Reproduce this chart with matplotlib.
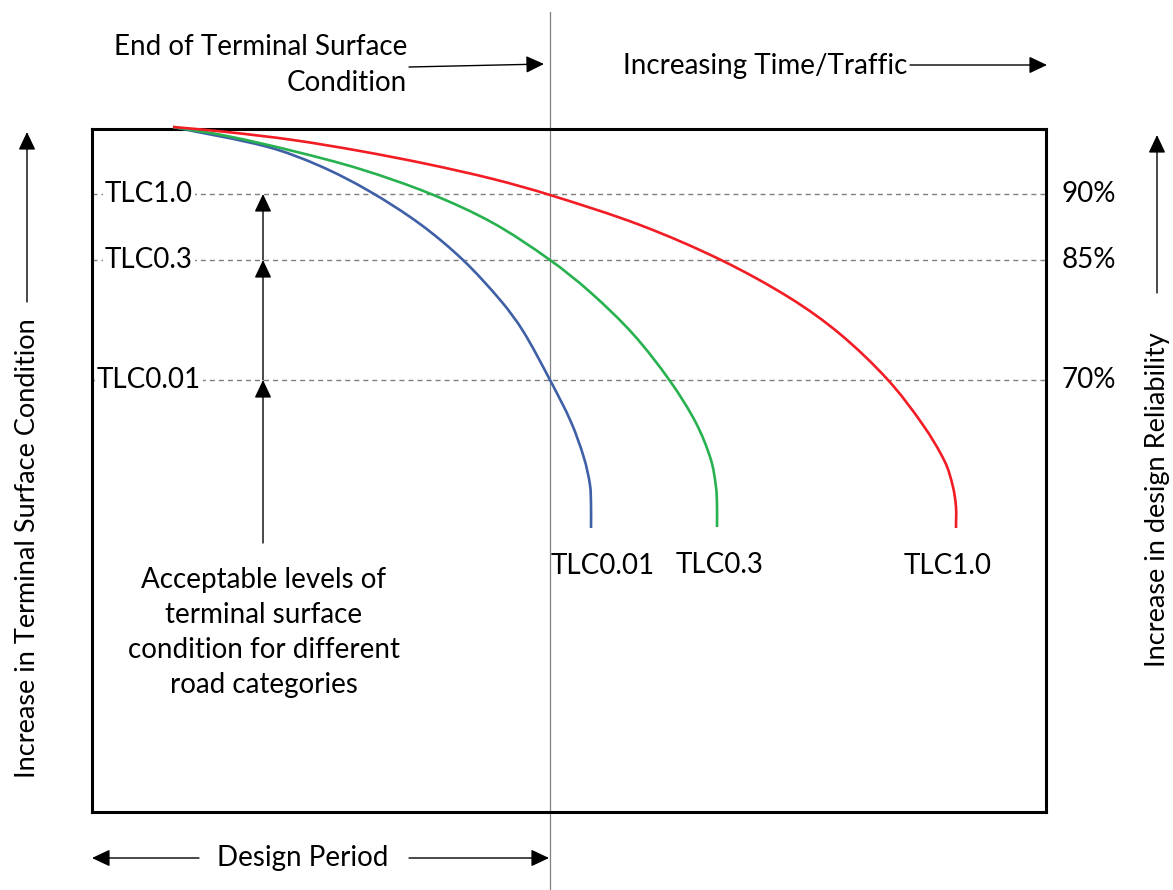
import math
import matplotlib
matplotlib.use("Agg")
import matplotlib.pyplot as plt
from matplotlib.path import Path
from matplotlib.patches import PathPatch

# ---- data (time/traffic units vs terminal surface condition units) ----
tlc001_t = [8.1, 17.6, 22.8, 27.7, 32.8, 37.1, 40.9, 43.1, 45.8, 47.9, 49.2, 49.8, 49.9, 49.9]
tlc001_c = [68.5, 66.5, 64.6, 62.1, 58.8, 55.2, 51.1, 48.1, 43.2, 39.0, 35.4, 32.7, 30.7, 28.4]

tlc03_t = [8.1, 13.5, 20.1, 26.8, 33.9, 40.1, 45.8, 49.8, 54.1, 57.8, 60.4, 61.9, 62.4, 62.5, 62.5]
tlc03_c = [68.5, 67.6, 66.1, 64.3, 61.8, 58.9, 55.2, 52.0, 47.8, 43.1, 38.9, 35.2, 32.5, 30.7, 28.5]

tlc10_t = [8.1, 13.5, 20.1, 26.8, 33.5, 40.1, 45.8, 54.8, 62.9, 69.8, 74.8, 79.6, 83.1, 85.3,
           86.1, 86.4, 86.4]
tlc10_c = [68.5, 68.0, 67.2, 66.1, 64.8, 63.3, 61.7, 58.7, 55.2, 51.4, 47.8, 43.2, 38.7, 35.0,
           32.5, 30.5, 28.4]

curve_labels = ["TLC0.01", "TLC0.3", "TLC1.0"]
level_values = [61.8, 55.2, 43.2]
level_labels = ["TLC1.0", "TLC0.3", "TLC0.01"]
reliability_labels = ["90%", "85%", "70%"]
design_period_end = 45.8
x_max, y_max = 95.4, 68.3

FONT = "Lato"
FS = 20
plt.rcParams["font.family"] = [FONT, "DejaVu Sans"]

W, H = 1173, 890
fig = plt.figure(figsize=(W / 100, H / 100), dpi=100)
fig.patch.set_facecolor("white")

# main box axes
ax = fig.add_axes([92 / W, (H - 812) / H, 954 / W, 683 / H])
ax.set_xlim(0, x_max)
ax.set_ylim(0, y_max)
ax.set_xticks([])
ax.set_yticks([])
for s in ax.spines.values():
    s.set_linewidth(2.2)
    s.set_color("black")

# dashed reference levels
for lv in level_values:
    ax.axhline(lv, color="#7f7f7f", lw=1.0, linestyle=(0, (3.6, 2.9)), zorder=1)

# vertical end-of-design-period line
ax.plot([design_period_end, design_period_end], [-7.9, 80.0], color="#808080",
        lw=0.9, clip_on=False, zorder=1)


def smooth_path(xs, ys):
    """Chord-length Hermite/Bezier path passing through the given points."""
    pts = list(zip(xs, ys))
    n = len(pts)
    d = [math.hypot(pts[i + 1][0] - pts[i][0], pts[i + 1][1] - pts[i][1])
         for i in range(n - 1)]
    tang = []
    for i in range(n):
        if i == 0:
            tang.append(((pts[1][0] - pts[0][0]) / d[0], (pts[1][1] - pts[0][1]) / d[0]))
        elif i == n - 1:
            tang.append(((pts[i][0] - pts[i - 1][0]) / d[i - 1],
                         (pts[i][1] - pts[i - 1][1]) / d[i - 1]))
        else:
            s = d[i - 1] + d[i]
            tang.append(((pts[i + 1][0] - pts[i - 1][0]) / s,
                         (pts[i + 1][1] - pts[i - 1][1]) / s))
    verts = [pts[0]]
    codes = [Path.MOVETO]
    for i in range(n - 1):
        p1, p2 = pts[i], pts[i + 1]
        m1, m2 = tang[i], tang[i + 1]
        h = d[i] / 3.0
        verts += [(p1[0] + m1[0] * h, p1[1] + m1[1] * h),
                  (p2[0] - m2[0] * h, p2[1] - m2[1] * h), p2]
        codes += [Path.CURVE4] * 3
    return Path(verts, codes)


# curves
colors = ["#3f60a6", "#27b14f", "#f21c24"]
series = [(tlc001_t, tlc001_c), (tlc03_t, tlc03_c), (tlc10_t, tlc10_c)]
offsets = [(12, -25), (3, -25), (-8, -25)]
for (t, c), col, lab, off in zip(series, colors, curve_labels, offsets):
    patch = PathPatch(smooth_path(t, c), facecolor="none", edgecolor=col, lw=1.9,
                      capstyle="butt", zorder=4, clip_on=False)
    ax.add_patch(patch)
    ax.annotate(lab, xy=(t[-1], c[-1]), xytext=off, textcoords="offset pixels",
                ha="center", va="top", fontsize=FS, annotation_clip=False)

# level labels (left) and reliability labels (right)
ytr = ax.get_yaxis_transform()
for lv, lab, rl in zip(level_values, level_labels, reliability_labels):
    ax.text(57 / 954, lv, lab, transform=ytr, ha="center", va="center", fontsize=FS,
            bbox=dict(facecolor="white", edgecolor="none", pad=1.5), zorder=5)
    ax.text(1.045, lv, rl, transform=ytr, ha="center", va="center", fontsize=FS,
            clip_on=False)

# acceptable-level arrows
arr_x = 17.1
arr_bottom = 26.9
arrow_kw = dict(arrowstyle="-|>,head_length=0.55,head_width=0.26", color="black",
                lw=1.0, mutation_scale=20, shrinkA=0, shrinkB=0)
starts = [arr_bottom] + level_values[::-1][:-1]
for y0, y1 in zip(starts, level_values[::-1]):
    ax.annotate("", xy=(arr_x, y1), xytext=(arr_x, y0), arrowprops=arrow_kw)

ax.text(17.2, 24.5,
        "Acceptable levels of\nterminal surface\ncondition for different\nroad categories",
        ha="center", va="top", fontsize=FS, linespacing=1.43)

# Design period arrows
ax.text(21.1, -4.6, "Design Period", ha="center", va="center",
        fontsize=FS, clip_on=False)
ax.annotate("", xy=(0.0, -4.6), xytext=(10.7, -4.6), arrowprops=arrow_kw,
            annotation_clip=False)
ax.annotate("", xy=(design_period_end - 0.1, -4.6), xytext=(31.7, -4.6),
            arrowprops=arrow_kw, annotation_clip=False)

# overlay for outer annotations (pixel layout)
ov = fig.add_axes([0, 0, 1, 1])
ov.set_xlim(0, W)
ov.set_ylim(H, 0)
ov.axis("off")

ov.text(407, 47, "End of Terminal Surface", ha="right", va="center", fontsize=FS)
ov.text(407, 83, "Condition", ha="right", va="center", fontsize=FS)
ov.annotate("", xy=(544, 64), xytext=(409, 67), arrowprops=arrow_kw)

ov.text(623, 66, "Increasing Time/Traffic", ha="left", va="center", fontsize=FS)
ov.annotate("", xy=(1047, 65), xytext=(910, 65), arrowprops=arrow_kw)

ov.text(28, 548, "Increase in Terminal Surface Condition", rotation=90,
        ha="center", va="center", fontsize=FS - 0.5)
ov.annotate("", xy=(27, 132), xytext=(27, 302), arrowprops=arrow_kw)

ov.text(1157, 500, "Increase in design Reliability", rotation=90,
        ha="center", va="center", fontsize=FS - 0.5)
ov.annotate("", xy=(1157, 135), xytext=(1157, 293), arrowprops=arrow_kw)

fig.savefig("out.png", dpi=100, facecolor="white")
